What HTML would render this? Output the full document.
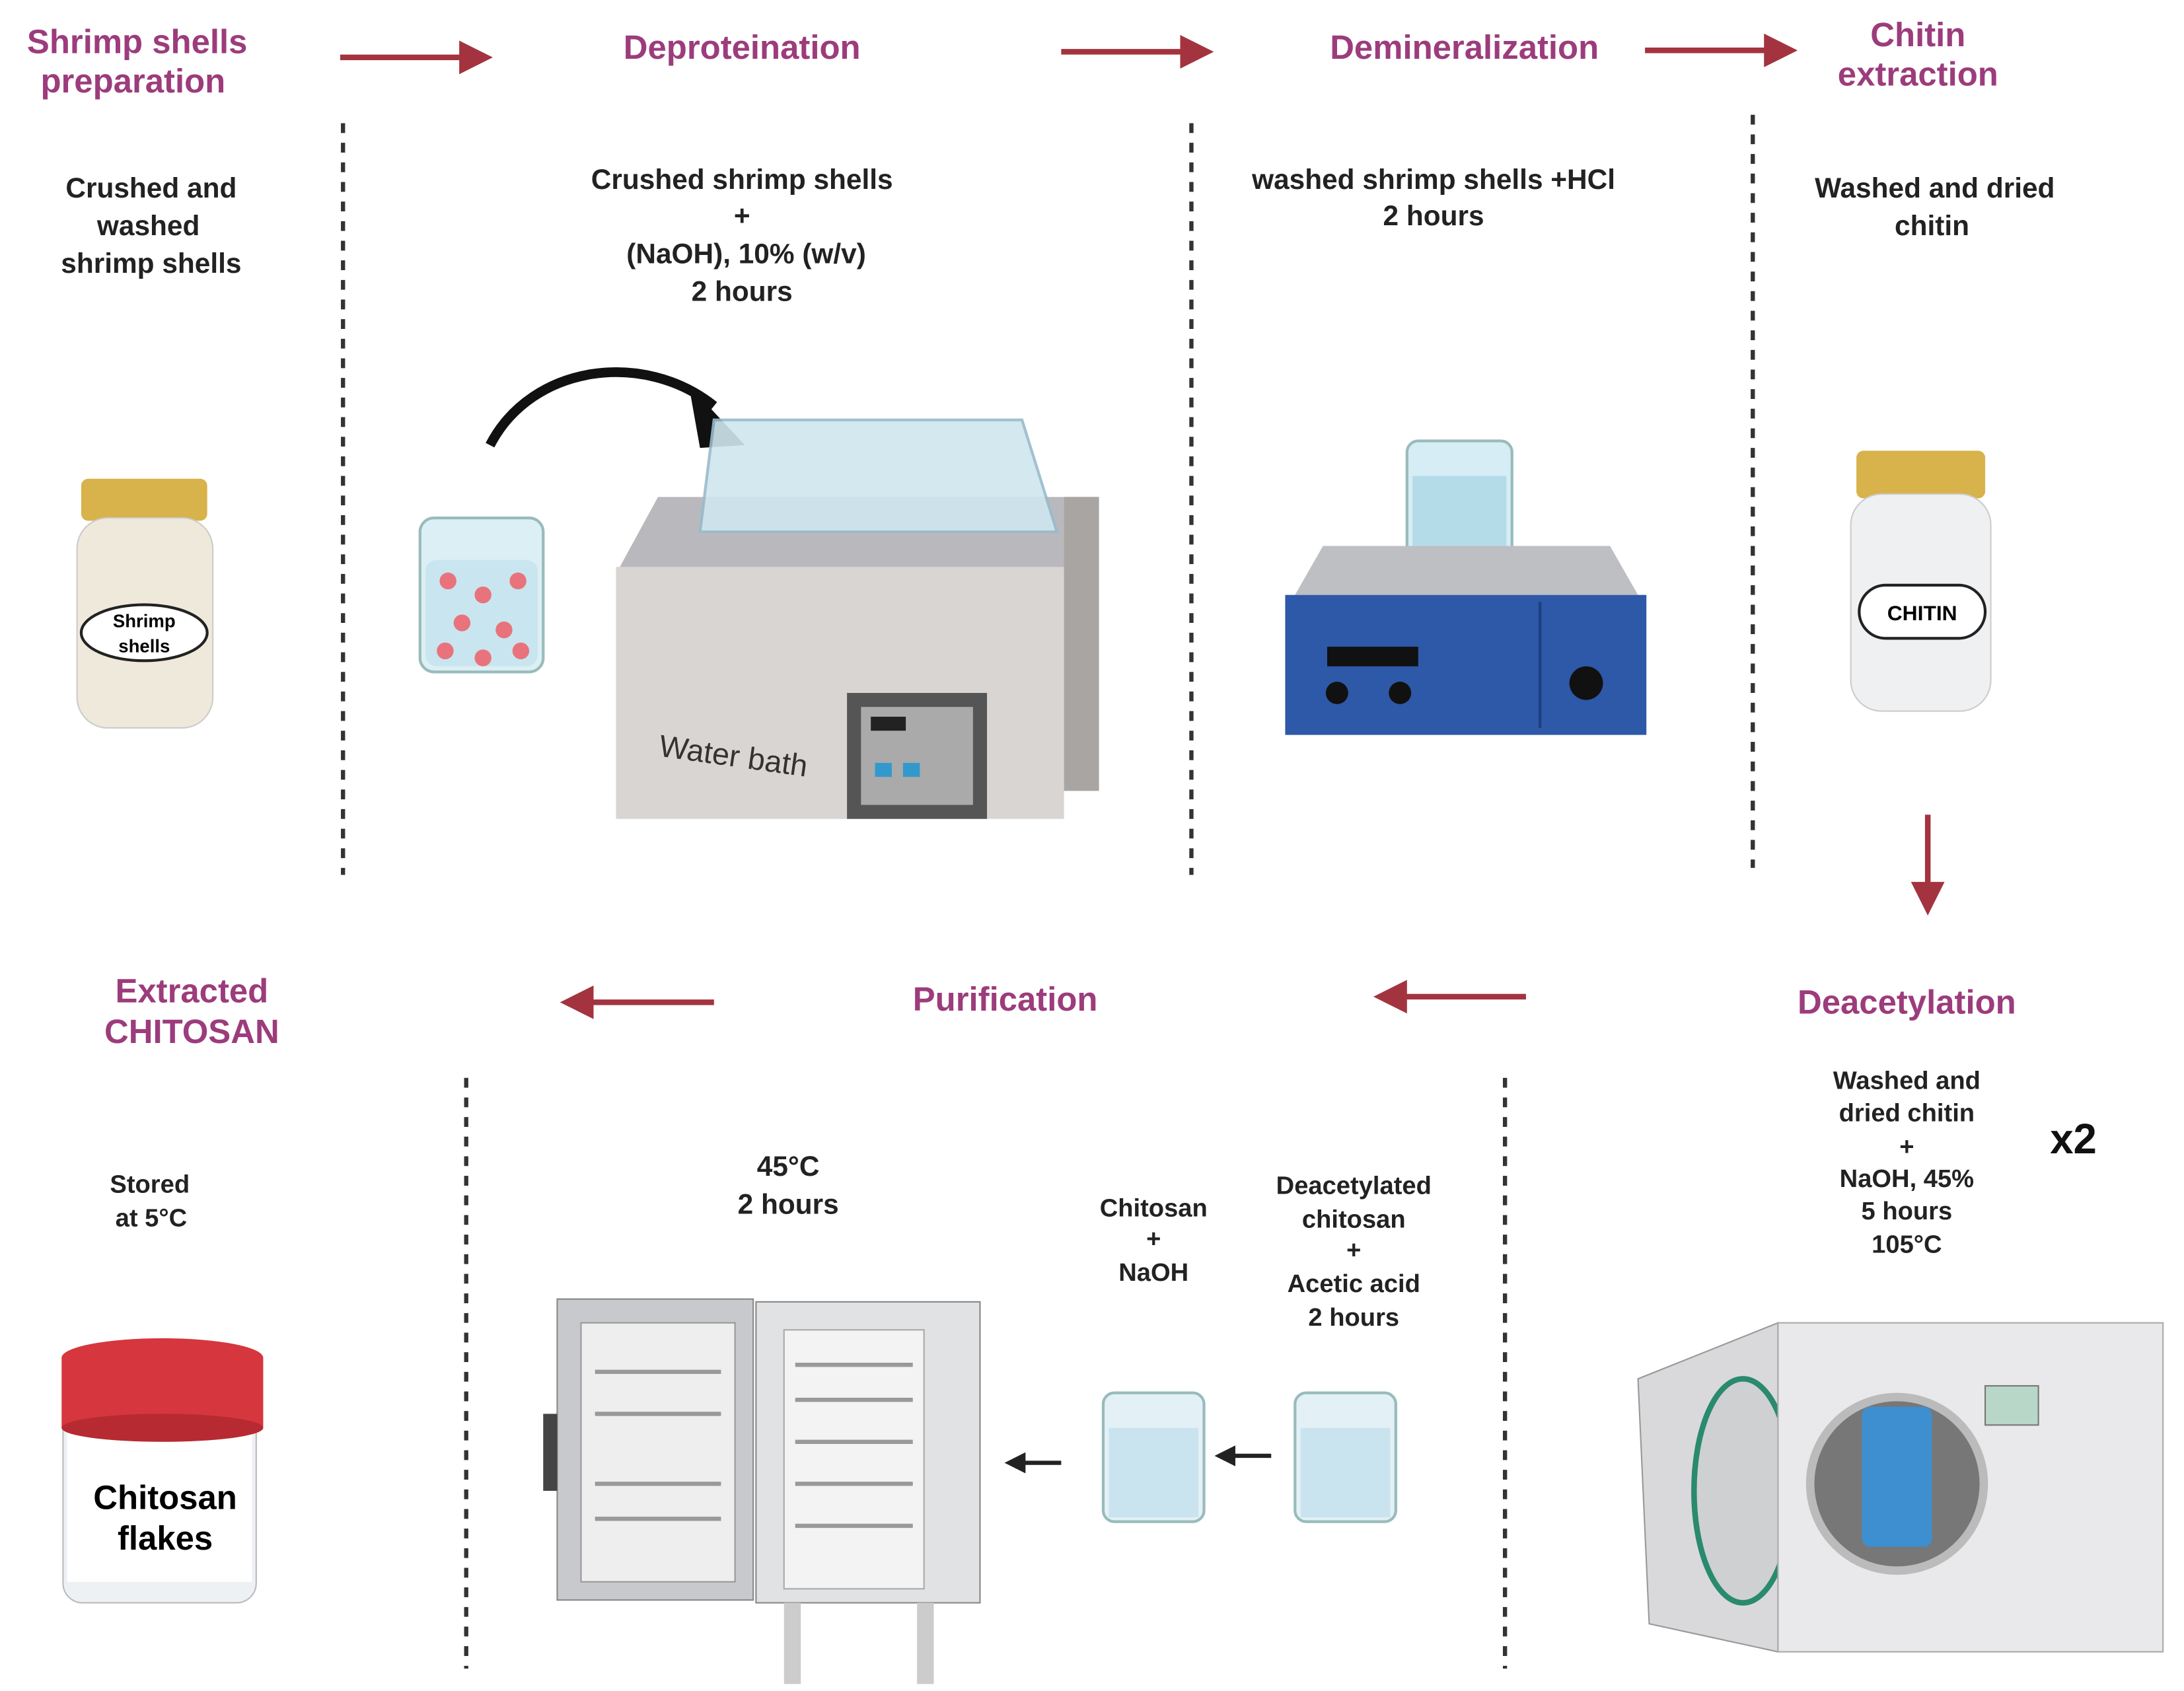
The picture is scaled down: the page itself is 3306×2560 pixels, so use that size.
<!DOCTYPE html>
<html><head><meta charset="utf-8"><style>
html,body{margin:0;padding:0;background:#fff}
svg{display:block}
text{font-family:"Liberation Sans",sans-serif}
.t{fill:#9c3c7c;font-weight:bold;font-size:24px;text-anchor:middle}
.b{fill:#222;font-weight:bold;font-size:20px;text-anchor:middle}
.s{fill:#222;font-weight:bold;font-size:18px;text-anchor:middle}
.d{stroke:#333;stroke-width:3;stroke-dasharray:7 7}
.ar{stroke:#a3343f;stroke-width:4;fill:none}
</style></head><body>
<svg width="3306" height="2560" viewBox="0 0 1560 1208" xmlns="http://www.w3.org/2000/svg">
<defs>
<marker id="m" markerWidth="6" markerHeight="6" refX="3" refY="3" orient="auto" markerUnits="strokeWidth"><path d="M0,0L6,3L0,6z" fill="#a3343f"/></marker>
<marker id="k" markerWidth="5" markerHeight="5" refX="2.5" refY="2.5" orient="auto" markerUnits="strokeWidth"><path d="M0,0L5,2.5L0,5z" fill="#222"/></marker>
</defs>
<!-- titles -->
<text class="t" x="98" y="38">Shrimp shells</text><text class="t" x="95" y="66">preparation</text>
<text class="t" x="530" y="42">Deproteination</text>
<text class="t" x="1046" y="42">Demineralization</text>
<text class="t" x="1370" y="33">Chitin</text><text class="t" x="1370" y="61">extraction</text>
<line class="ar" x1="243" y1="41" x2="340" y2="41" marker-end="url(#m)"/>
<line class="ar" x1="758" y1="37" x2="855" y2="37" marker-end="url(#m)"/>
<line class="ar" x1="1175" y1="36" x2="1272" y2="36" marker-end="url(#m)"/>
<!-- dashed -->
<line class="d" x1="245" y1="88" x2="245" y2="625"/>
<line class="d" x1="851" y1="88" x2="851" y2="625"/>
<line class="d" x1="1252" y1="82" x2="1252" y2="620"/>
<line class="d" x1="333" y1="770" x2="333" y2="1192"/>
<line class="d" x1="1075" y1="770" x2="1075" y2="1192"/>
<!-- top text -->
<text class="b" x="108" y="141">Crushed and</text><text class="b" x="106" y="168">washed</text><text class="b" x="108" y="195">shrimp shells</text>
<text class="b" x="530" y="135">Crushed shrimp shells</text><text class="b" x="530" y="161">+</text><text class="b" x="533" y="188">(NaOH), 10% (w/v)</text><text class="b" x="530" y="215">2 hours</text>
<text class="b" x="1024" y="135">washed shrimp shells +HCl</text><text class="b" x="1024" y="161">2 hours</text>
<text class="b" x="1382" y="141">Washed and dried</text><text class="b" x="1380" y="168">chitin</text>
<!-- jar 1 -->
<rect x="58" y="342" width="90" height="30" rx="5" fill="#d8b24a"/>
<rect x="55" y="370" width="97" height="150" rx="22" fill="#efe9dc" stroke="#ccc"/>
<ellipse cx="103" cy="452" rx="45" ry="20" fill="#fff" stroke="#222" stroke-width="2"/>
<text x="103" y="448" font-size="13" font-weight="bold" text-anchor="middle">Shrimp</text><text x="103" y="466" font-size="13" font-weight="bold" text-anchor="middle">shells</text>
<!-- beaker + curved arrow -->
<path d="M350,318 C380,260 460,250 510,290" stroke="#111" stroke-width="7" fill="none"/>
<path d="M492,275 L532,318 L500,320 z" fill="#111"/>
<rect x="300" y="370" width="88" height="110" rx="10" fill="#dceff5" stroke="#9bb" stroke-width="2"/>
<rect x="304" y="400" width="80" height="76" rx="8" fill="#c9e5ef"/>
<g fill="#e8737c"><circle cx="320" cy="415" r="6"/><circle cx="345" cy="425" r="6"/><circle cx="370" cy="415" r="6"/><circle cx="330" cy="445" r="6"/><circle cx="360" cy="450" r="6"/><circle cx="318" cy="465" r="6"/><circle cx="372" cy="465" r="6"/><circle cx="345" cy="470" r="6"/></g>
<!-- water bath -->
<path d="M440,410 L470,355 L785,355 L760,410 z" fill="#b9b9bd"/>
<rect x="440" y="405" width="320" height="180" fill="#d9d5d2"/>
<rect x="760" y="355" width="25" height="210" fill="#a9a5a2"/>
<path d="M500,380 L510,300 L730,300 L755,380 z" fill="#cfe6ee" stroke="#9bc" stroke-width="2" opacity=".9"/>
<rect x="605" y="495" width="100" height="90" fill="#555"/><rect x="615" y="505" width="80" height="70" fill="#aaa"/>
<rect x="622" y="512" width="25" height="10" fill="#222"/><rect x="625" y="545" width="12" height="10" fill="#39c"/><rect x="645" y="545" width="12" height="10" fill="#39c"/>
<text x="470" y="540" font-size="22" fill="#333" transform="rotate(8 470 540)">Water bath</text>
<!-- stirrer -->
<rect x="1005" y="315" width="75" height="100" rx="8" fill="#d6edf5" stroke="#9bb" stroke-width="2"/>
<rect x="1009" y="340" width="67" height="72" fill="#b4dbe8"/>
<path d="M925,425 L945,390 L1150,390 L1170,425 z" fill="#bdbfc2"/>
<rect x="918" y="425" width="258" height="100" fill="#2e58a8"/>
<rect x="948" y="462" width="65" height="14" fill="#111"/>
<circle cx="955" cy="495" r="8" fill="#111"/><circle cx="1000" cy="495" r="8" fill="#111"/><circle cx="1133" cy="488" r="12" fill="#111"/>
<line x1="1100" y1="430" x2="1100" y2="520" stroke="#1d3e80" stroke-width="2"/>
<!-- chitin jar -->
<rect x="1326" y="322" width="92" height="34" rx="5" fill="#d8b24a"/>
<rect x="1322" y="353" width="100" height="155" rx="22" fill="#eef0f2" stroke="#ccc"/>
<rect x="1328" y="418" width="90" height="38" rx="19" fill="#fff" stroke="#222" stroke-width="2"/>
<text x="1373" y="443" font-size="15" font-weight="bold" text-anchor="middle">CHITIN</text>
<line class="ar" x1="1377" y1="582" x2="1377" y2="642" stroke-width="3" marker-end="url(#m)"/>
<!-- bottom titles -->
<text class="t" x="137" y="716">Extracted</text><text class="t" x="137" y="745">CHITOSAN</text>
<text class="t" x="718" y="722" font-size="29">Purification</text>
<text class="t" x="1362" y="724" font-size="29">Deacetylation</text>
<line class="ar" x1="510" y1="716" x2="412" y2="716" marker-end="url(#m)"/>
<line class="ar" x1="1090" y1="712" x2="993" y2="712" marker-end="url(#m)"/>
<!-- bottom text -->
<text class="s" x="107" y="852">Stored</text><text class="s" x="108" y="876">at 5°C</text>
<text class="b" x="563" y="840">45°C</text><text class="b" x="563" y="867">2 hours</text>
<text class="s" x="824" y="869">Chitosan</text><text class="s" x="824" y="891">+</text><text class="s" x="824" y="915">NaOH</text>
<text class="s" x="967" y="853">Deacetylated</text><text class="s" x="967" y="877">chitosan</text><text class="s" x="967" y="899">+</text><text class="s" x="967" y="923">Acetic acid</text><text class="s" x="967" y="947">2 hours</text>
<text class="s" x="1362" y="778">Washed and</text><text class="s" x="1362" y="801">dried chitin</text><text class="s" x="1362" y="825">+</text><text class="s" x="1362" y="848">NaOH, 45%</text><text class="s" x="1362" y="871">5 hours</text><text class="s" x="1362" y="895">105°C</text>
<text x="1481" y="824" font-size="30" font-weight="bold" text-anchor="middle" fill="#111">x2</text>
<!-- chitosan jar -->
<rect x="45" y="985" width="138" height="160" rx="14" fill="#eef1f4" stroke="#bbb"/>
<rect x="48" y="1010" width="132" height="120" fill="#fff"/>
<ellipse cx="116" cy="970" rx="72" ry="14" fill="#d6363d"/>
<rect x="44" y="970" width="144" height="50" fill="#d6363d"/>
<ellipse cx="116" cy="1020" rx="72" ry="10" fill="#b72a31"/>
<text x="118" y="1078" font-size="24" font-weight="bold" text-anchor="middle">Chitosan</text><text x="118" y="1107" font-size="24" font-weight="bold" text-anchor="middle">flakes</text>
<!-- oven -->
<rect x="398" y="928" width="140" height="215" fill="#c8c9cc" stroke="#888"/>
<rect x="415" y="945" width="110" height="185" fill="#eee" stroke="#999"/>
<rect x="540" y="930" width="160" height="215" fill="#e1e2e4" stroke="#888"/>
<rect x="560" y="950" width="100" height="185" fill="#f3f3f3" stroke="#aaa"/>
<g stroke="#999" stroke-width="3"><line x1="425" y1="980" x2="515" y2="980"/><line x1="425" y1="1010" x2="515" y2="1010"/><line x1="425" y1="1060" x2="515" y2="1060"/><line x1="425" y1="1085" x2="515" y2="1085"/><line x1="568" y1="975" x2="652" y2="975"/><line x1="568" y1="1000" x2="652" y2="1000"/><line x1="568" y1="1030" x2="652" y2="1030"/><line x1="568" y1="1060" x2="652" y2="1060"/><line x1="568" y1="1090" x2="652" y2="1090"/></g>
<rect x="388" y="1010" width="10" height="55" fill="#444"/>
<rect x="560" y="1145" width="12" height="58" fill="#ccc"/><rect x="655" y="1145" width="12" height="58" fill="#ccc"/>
<line x1="758" y1="1045" x2="725" y2="1045" stroke="#222" stroke-width="3" marker-end="url(#k)"/>
<line x1="908" y1="1040" x2="875" y2="1040" stroke="#222" stroke-width="3" marker-end="url(#k)"/>
<rect x="788" y="995" width="72" height="92" rx="8" fill="#e3f1f6" stroke="#9bb" stroke-width="2"/><rect x="792" y="1020" width="64" height="64" fill="#c9e4ee"/>
<rect x="925" y="995" width="72" height="92" rx="8" fill="#e3f1f6" stroke="#9bb" stroke-width="2"/><rect x="929" y="1020" width="64" height="64" fill="#c9e4ee"/>
<!-- autoclave -->
<path d="M1170,985 L1270,945 L1270,1180 L1178,1160 z" fill="#d9d9db" stroke="#999"/>
<ellipse cx="1245" cy="1065" rx="35" ry="80" fill="#cfd0d2" stroke="#2a8a6e" stroke-width="4"/>
<rect x="1270" y="945" width="275" height="235" fill="#e9e9eb" stroke="#aaa"/>
<circle cx="1355" cy="1060" r="62" fill="#777" stroke="#bbb" stroke-width="6"/>
<rect x="1330" y="1005" width="50" height="100" rx="6" fill="#3d8fd0"/>
<rect x="1418" y="990" width="38" height="28" fill="#b9d7c8" stroke="#777"/>
</svg>
</body></html>
